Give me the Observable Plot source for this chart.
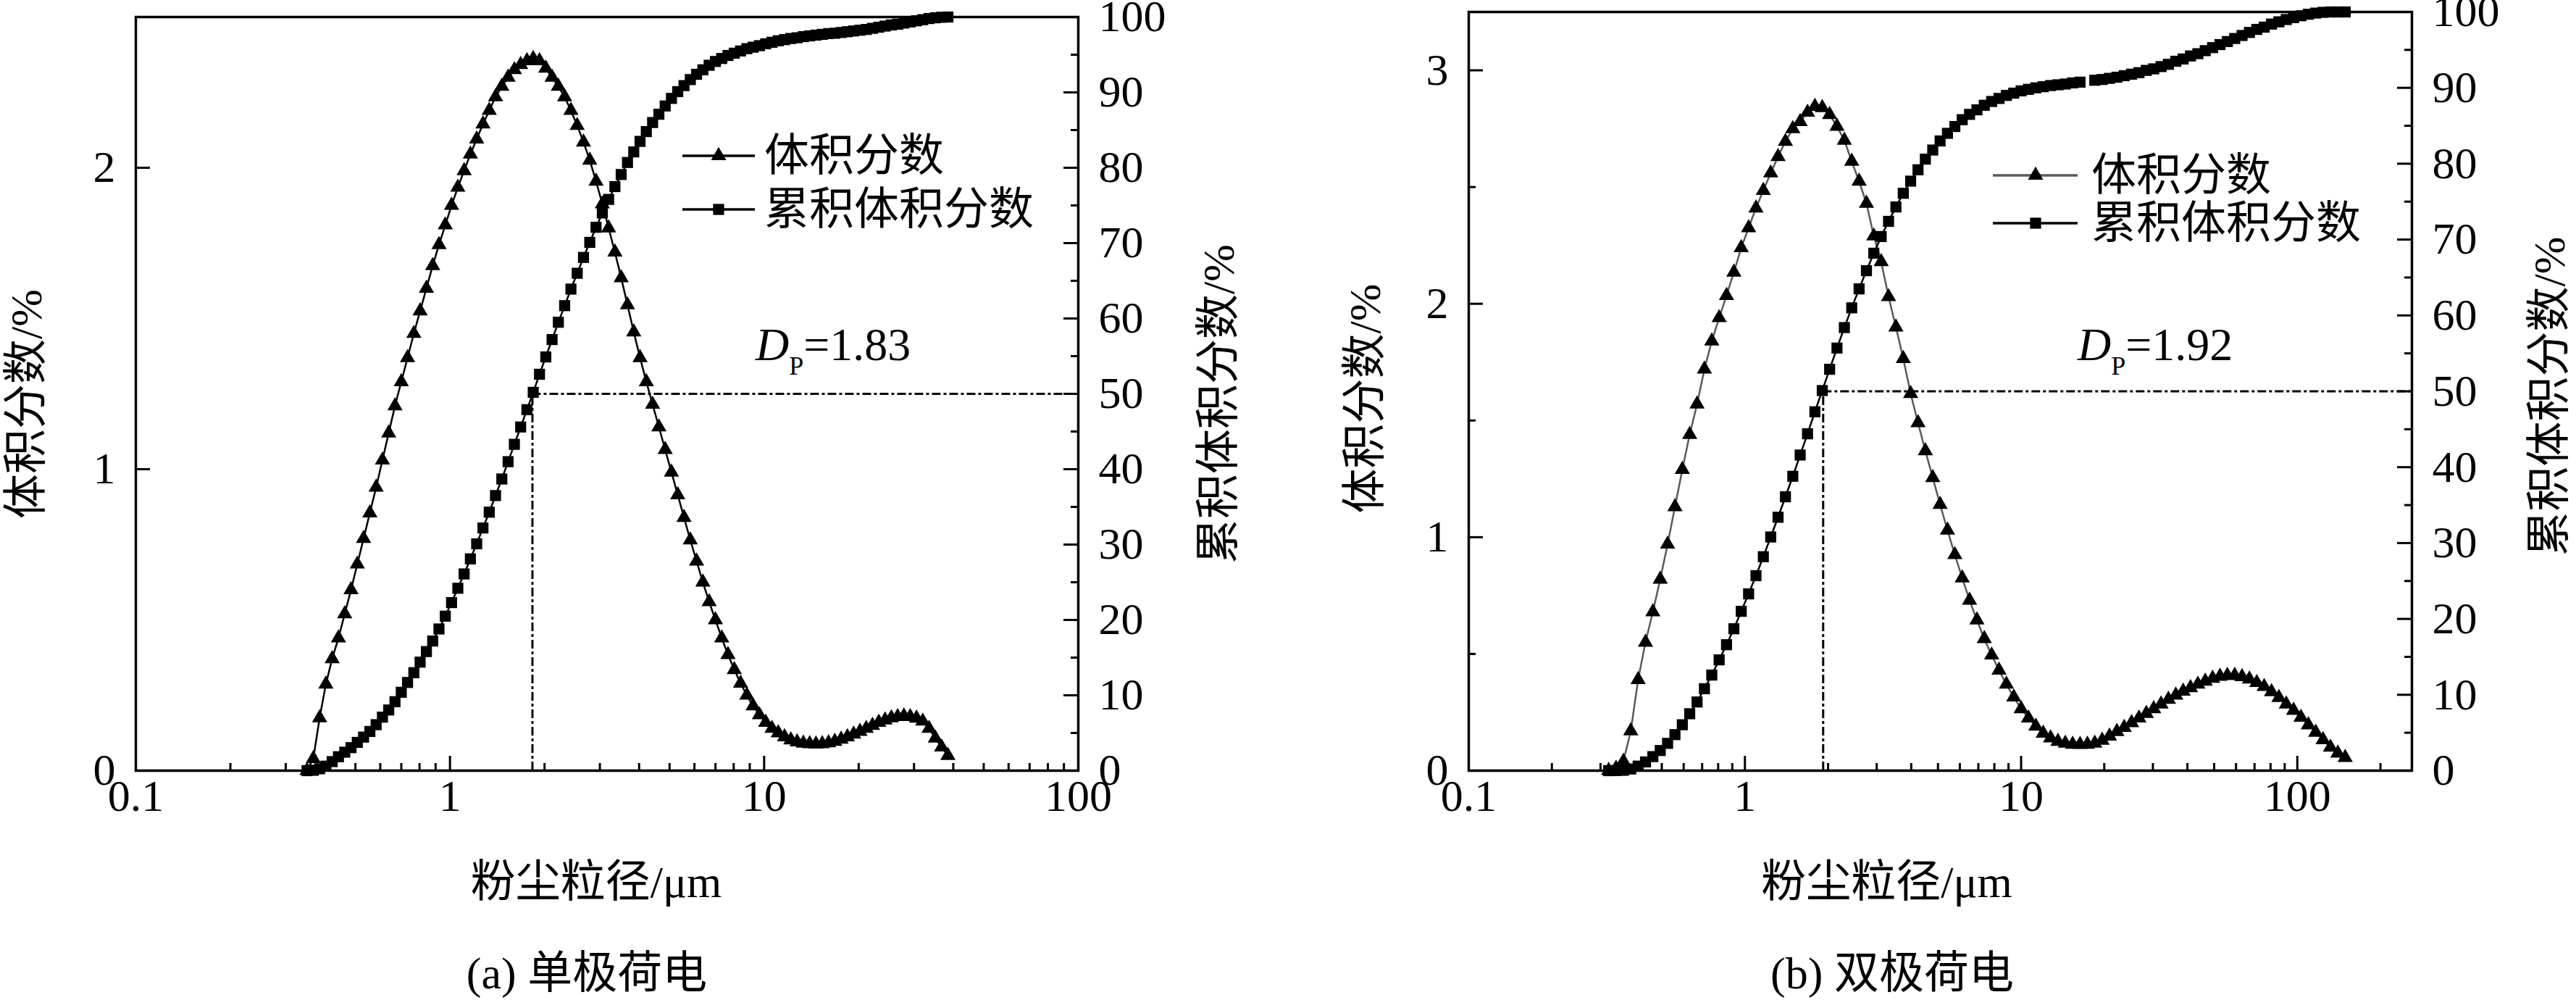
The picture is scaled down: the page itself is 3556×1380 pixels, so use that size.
<!DOCTYPE html>
<html>
<head>
<meta charset="utf-8">
<script src="https://cdn.jsdelivr.net/npm/d3@7"></script>
<script src="https://cdn.jsdelivr.net/npm/@observablehq/plot@0.6"></script>
<style>
  html, body { margin: 0; padding: 0; background: #fff; }
  #wrap { position: relative; width: 3556px; height: 1380px; overflow: hidden; background: #fff; }
  #wrap > div.panel { position: absolute; top: 0; }
  #overlay { position: absolute; left: 0; top: 0; pointer-events: none; }
</style>
</head>
<body>
<div id="wrap"></div>
<script>
// ---------------- DATA ----------------
// Panel (a) 单极荷电 — particle size (µm)
const sizeA = [0.3508,0.3673,0.3846,0.4027,0.4217,0.4416,0.4624,0.4842,0.5070,0.5309,
  0.5559,0.5821,0.6095,0.6383,0.6683,0.6998,0.7328,0.7674,0.8035,0.8414,
  0.8810,0.9226,0.9661,1.0116,1.0593,1.1092,1.1614,1.2162,1.2735,1.3335,
  1.3964,1.4622,1.5311,1.6032,1.6788,1.7579,1.8408,1.9275,2.0184,2.1135,
  2.2131,2.3174,2.4266,2.5410,2.6607,2.7861,2.9174,3.0549,3.1989,3.3497,
  3.5075,3.6728,3.8459,4.0272,4.2170,4.4157,4.6238,4.8417,5.0699,5.3088,
  5.5590,5.8210,6.0954,6.3826,6.6834,6.9984,7.3282,7.6736,8.0353,8.4140,
  8.8105,9.2257,9.6605,10.116,10.593,11.092,11.614,12.162,12.735,13.335,
  13.964,14.622,15.311,16.032,16.788,17.579,18.408,19.275,20.184,21.135,
  22.131,23.174,24.266,25.410,26.607,27.861,29.174,30.549,31.989,33.497,
  35.075,36.728,38.459];
// 体积分数 (%)
const volA = [0,0.04,0.175,0.287,0.371,0.44,0.52,0.60,0.685,0.77,
  0.855,0.94,1.03,1.12,1.21,1.29,1.37,1.45,1.525,1.60,
  1.675,1.745,1.81,1.875,1.935,1.99,2.045,2.095,2.145,2.19,
  2.235,2.27,2.30,2.325,2.342,2.355,2.362,2.355,2.33,2.30,
  2.27,2.235,2.19,2.14,2.085,2.025,1.955,1.88,1.80,1.72,
  1.635,1.545,1.455,1.37,1.29,1.215,1.14,1.065,0.99,0.915,
  0.84,0.765,0.695,0.625,0.56,0.50,0.44,0.385,0.335,0.29,
  0.25,0.215,0.185,0.16,0.14,0.125,0.112,0.102,0.095,0.091,
  0.089,0.088,0.089,0.092,0.097,0.104,0.112,0.121,0.13,0.14,
  0.15,0.16,0.168,0.175,0.179,0.181,0.179,0.174,0.164,0.14,
  0.108,0.078,0.05];
// 累积体积分数 (%)
const cumA = [0,0.05,0.25,0.6,1.2,1.85,2.45,3.05,3.75,4.45,
  5.2,6.1,7.1,8.05,9.15,10.4,11.7,13.0,14.4,15.8,
  17.2,18.8,20.5,22.3,24.2,26.1,28.1,30.1,32.2,34.3,
  36.5,38.7,41.0,43.3,45.6,47.9,50.2,52.6,54.9,57.2,
  59.5,61.7,63.9,66.0,68.1,70.1,72.1,74.0,75.8,77.5,
  79.1,80.7,82.1,83.5,84.8,86.0,87.1,88.2,89.2,90.1,
  90.9,91.7,92.4,93.0,93.6,94.1,94.5,94.9,95.2,95.5,
  95.8,96.0,96.2,96.45,96.65,96.85,97.0,97.15,97.25,97.4,
  97.5,97.6,97.7,97.8,97.85,97.95,98.05,98.15,98.25,98.35,
  98.5,98.65,98.8,98.95,99.05,99.2,99.35,99.5,99.65,99.8,
  99.9,99.97,100];

// Panel (b) 双极荷电 — particle size (µm)
const sizeB = [0.32112,0.341455,0.363078,0.38607,0.410519,0.436516,0.464159,0.493552,0.524807,0.558042,
  0.59338,0.630957,0.670913,0.7134,0.758578,0.806615,0.857696,0.912011,0.969767,1.03117,
  1.09648,1.16591,1.23974,1.31826,1.40174,1.49051,1.58489,1.68526,1.79198,1.90546,
  2.02613,2.15443,2.29087,2.43594,2.5902,2.75423,2.92864,3.11411,3.31131,3.52101,
  3.74398,3.98107,4.23317,4.50125,4.7863,5.08939,5.4117,5.7544,6.1188,6.50629,
  6.91831,7.35642,7.82228,8.31764,8.84436,9.40445,10,10.6333,11.3066,12.0226,
  12.784,13.5936,14.4544,15.3698,16.3431,17.378,18.4785,19.6487,20.893,22.216,
  23.6229,25.1189,26.7096,28.401,30.1995,32.112,34.1455,36.3078,38.607,41.0519,
  43.6516,46.4159,49.3552,52.4807,55.8042,59.338,63.0957,67.0913,71.34,75.8578,
  80.6615,85.7696,91.2011,96.9767,103.117,109.648,116.591,123.974,131.826,140.174,
  149.051];
const volB = [0,0.01,0.04,0.17,0.39,0.55,0.68,0.82,0.97,1.13,
  1.29,1.44,1.57,1.72,1.84,1.94,2.035,2.135,2.24,2.325,
  2.41,2.485,2.56,2.63,2.695,2.75,2.78,2.82,2.845,2.84,
  2.81,2.76,2.70,2.61,2.525,2.43,2.29,2.18,2.03,1.90,
  1.765,1.615,1.49,1.37,1.255,1.14,1.03,0.925,0.825,0.73,
  0.645,0.565,0.495,0.43,0.37,0.315,0.265,0.225,0.19,0.16,
  0.14,0.125,0.117,0.113,0.112,0.113,0.117,0.13,0.148,0.167,
  0.185,0.205,0.225,0.245,0.265,0.285,0.305,0.323,0.34,0.355,
  0.37,0.383,0.395,0.404,0.408,0.408,0.402,0.392,0.377,0.36,
  0.338,0.313,0.285,0.258,0.228,0.196,0.164,0.132,0.10,0.075,
  0.056];
const cumB = [0,0.01,0.05,0.22,0.6,1.15,1.85,2.65,3.6,4.75,
  6.05,7.5,9.05,10.8,12.6,14.6,16.6,18.7,21.0,23.3,
  25.7,28.2,30.8,33.4,36.1,38.8,41.6,44.4,47.3,50.1,
  52.9,55.7,58.4,61.0,63.5,65.9,68.2,70.4,72.4,74.3,
  76.1,77.7,79.2,80.6,81.8,83.0,84.0,84.9,85.8,86.5,
  87.1,87.7,88.2,88.6,89.0,89.3,89.6,89.8,90.0,90.15,
  90.3,90.4,90.5,90.65,90.75,null,91.0,91.1,91.25,91.4,
  91.6,91.8,92.0,92.3,92.5,92.8,93.1,93.5,93.8,94.2,
  94.5,94.9,95.3,95.7,96.1,96.5,96.9,97.3,97.7,98.0,
  98.4,98.7,99.0,99.25,99.5,99.7,99.85,99.95,100,100,
  100];

// Median diameters
const d50A = 1.83, d50B = 1.92;
// Tick values
const xMajor = [0.1, 1, 10, 100];
const xMinorA = [0.2,0.3,0.4,0.5,0.6,0.7,0.8,0.9,2,3,4,5,6,7,8,9,20,30,40,50,60,70,80,90];
const xMinorB = [0.2,0.3,0.4,0.5,0.6,0.7,0.8,0.9,2,3,4,5,6,7,8,9,20,30,40,50,60,70,80,90,200];
const leftMajorA = [0, 1, 2];
const leftMajorB = [0, 1, 2, 3];
const leftMinorB = [0.5, 1.5, 2.5];
const rightMajor = [0,10,20,30,40,50,60,70,80,90,100];
const rightMinor = [5,15,25,35,45,55,65,75,85,95];
// Texts
const xTitle = "粉尘粒径/μm";
const leftTitle = "体积分数/%";
const rightTitle = "累积体积分数/%";
const legendLabels = ["体积分数", "累积体积分数"];
const captionA = "(a) 单极荷电";
const captionB = "(b) 双极荷电";

// ---------------- DRAWING ----------------
const FONT = '"Liberation Serif","Times New Roman","Noto Sans CJK SC",serif';
const W = 1778, H = 1290;

function panel(o) {
  const k = o.yMax / 100;
  const rows = o.size.map((s, i) => ({s, v: o.vol[i], c: o.cum[i]}));
  const iw = W - o.mL - o.mR, ih = H - o.mT - o.mB;
  const dash = {stroke: "black", strokeWidth: 3, strokeDasharray: "12,4,4,4"};
  const tk = {stroke: "black", strokeWidth: 3};
  const txt = {fontSize: 62, fill: "black"};
  return Plot.plot({
    width: W, height: H,
    marginLeft: o.mL, marginRight: o.mR, marginTop: o.mT, marginBottom: o.mB,
    style: {fontFamily: FONT, background: "transparent", color: "black", overflow: "visible"},
    x: {type: "log", domain: [0.1, o.xMax], axis: null},
    y: {domain: [0, o.yMax], axis: null},
    marks: [
      Plot.ruleX([o.d50], {x: d => d, y1: 0, y2: 50 * k, ...dash}),
      Plot.ruleY([50 * k], {y: d => d, x1: o.d50, x2: o.xMax, ...dash}),
      Plot.line(rows, {x: "s", y: "v", stroke: o.volColor, strokeWidth: 2.5}),
      Plot.line(rows, {x: "s", y: d => d.c == null ? NaN : d.c * k, stroke: "black", strokeWidth: 2.5}),
      Plot.dot(rows, {x: "s", y: "v", symbol: "triangle", r: 7.8, fill: "black", stroke: "none"}),
      Plot.dot(rows.filter(d => d.c != null), {x: "s", y: d => d.c * k, symbol: "square", r: 8.6, fill: "black", stroke: "none"}),
      Plot.tickX(xMajor, {x: d => d, insetTop: ih - 20, ...tk}),
      Plot.tickX(o.xMinor, {x: d => d, insetTop: ih - 10, ...tk}),
      Plot.tickY(o.leftMajor, {y: d => d, insetRight: iw - 20, ...tk}),
      Plot.tickY(o.leftMinor, {y: d => d, insetRight: iw - 10, ...tk}),
      Plot.tickY(rightMajor, {y: d => d * k, insetLeft: iw - 20, ...tk}),
      Plot.tickY(rightMinor, {y: d => d * k, insetLeft: iw - 10, ...tk}),
      Plot.frame({stroke: "black", strokeWidth: 3.5}),
      Plot.text(xMajor, {x: d => d, frameAnchor: "bottom", dy: 55, textAnchor: "middle", text: d => String(d), ...txt}),
      Plot.text(o.leftMajor, {y: d => d, frameAnchor: "left", dx: -28, textAnchor: "end", text: d => String(d), ...txt}),
      Plot.text(rightMajor, {y: d => d * k, frameAnchor: "right", dx: 28, textAnchor: "start", text: d => String(d), ...txt}),
      Plot.text([xTitle], {frameAnchor: "bottom", dy: 174, dx: o.xTitleDx, textAnchor: "middle", text: d => d, ...txt}),
      Plot.text([leftTitle], {frameAnchor: "left", dx: o.lDx, dy: o.lDy, rotate: -90, textAnchor: "middle", text: d => d, ...txt}),
      Plot.text([rightTitle], {frameAnchor: "right", dx: o.rDx, dy: o.rDy, rotate: -90, textAnchor: "middle", text: d => d, ...txt})
    ]
  });
}

const wrap = document.getElementById("wrap");
function place(node, left) {
  const div = document.createElement("div");
  div.className = "panel";
  div.style.left = left + "px";
  div.appendChild(node);
  wrap.appendChild(div);
}

place(panel({
  size: sizeA, vol: volA, cum: cumA, xMax: 100, yMax: 2.5, d50: d50A, volColor: "black",
  xMinor: xMinorA, leftMajor: leftMajorA, leftMinor: [],
  mL: 187, mR: 290, mT: 23, mB: 227,
  xTitleDx: -15, lDx: -150, lDy: 14, rDx: 195, rDy: 14
}), 0);

place(panel({
  size: sizeB, vol: volB, cum: cumB, xMax: 260, yMax: 3.25, d50: d50B, volColor: "#5a5a5a",
  xMinor: xMinorB, leftMajor: leftMajorB, leftMinor: leftMinorB,
  mL: 249, mR: 227, mT: 16, mB: 227,
  xTitleDx: -74, lDx: -142, lDy: 10, rDx: 191, rDy: 7
}), 1778);

// Overlay: legends, D_P annotations, captions
const svg = d3.select(wrap).append("svg").attr("id", "overlay")
  .attr("width", 3556).attr("height", 1380)
  .style("font-family", FONT);

function legend(x1, x2, xm, xt, y1, y2, volColor) {
  const g = svg.append("g");
  g.append("line").attr("x1", x1).attr("x2", x2).attr("y1", y1).attr("y2", y1)
    .attr("stroke", volColor).attr("stroke-width", 3.5);
  g.append("path").attr("d", d3.symbol(d3.symbolTriangle, 191)()).attr("transform", `translate(${xm},${y1})`).attr("fill", "black");
  g.append("text").attr("x", xt).attr("y", y1).attr("dominant-baseline", "central").attr("font-size", 62).text(legendLabels[0]);
  g.append("line").attr("x1", x1).attr("x2", x2).attr("y1", y2).attr("y2", y2)
    .attr("stroke", "black").attr("stroke-width", 3.5);
  g.append("path").attr("d", d3.symbol(d3.symbolSquare, 232)()).attr("transform", `translate(${xm},${y2})`).attr("fill", "black");
  g.append("text").attr("x", xt).attr("y", y2).attr("dominant-baseline", "central").attr("font-size", 62).text(legendLabels[1]);
}
legend(942, 1042, 992, 1055, 215, 289, "black");
legend(2751, 2868, 2810, 2887, 242, 308, "#5a5a5a");

function dp(x, y, val) {
  const t = svg.append("text").attr("x", x).attr("y", y).attr("font-size", 64);
  t.append("tspan").attr("font-style", "italic").text("D");
  t.append("tspan").attr("font-size", 36).attr("dy", 20).text("P");
  t.append("tspan").attr("dy", -20).text("=" + val.toFixed(2));
}
dp(1043, 497, d50A);
dp(2868, 497, d50B);

svg.append("text").attr("x", 810).attr("y", 1343).attr("text-anchor", "middle")
  .attr("dominant-baseline", "central").attr("font-size", 62).text(captionA);
svg.append("text").attr("x", 2612).attr("y", 1343).attr("text-anchor", "middle")
  .attr("dominant-baseline", "central").attr("font-size", 62).text(captionB);
</script>
</body>
</html>
